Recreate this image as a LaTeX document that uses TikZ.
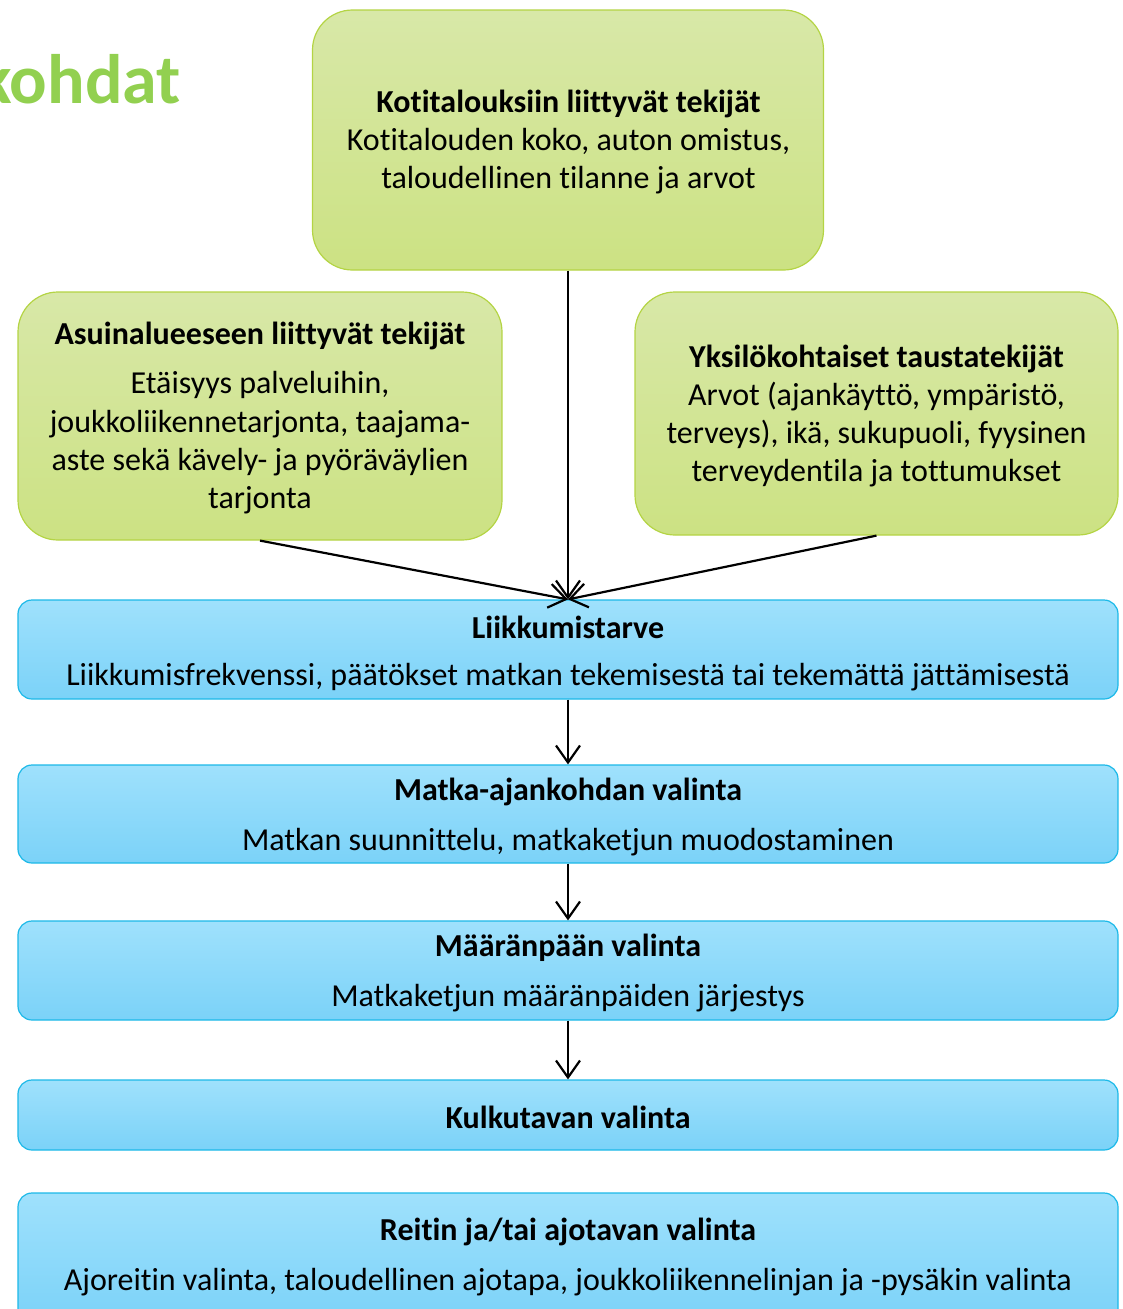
\documentclass[tikz,border=0pt]{standalone}
\usepackage{fontspec}
\setmainfont{Carlito}[Ligatures={NoCommon,NoContextual}]
\usetikzlibrary{arrows.meta}
\definecolor{gtop}{HTML}{D8E8A8}
\definecolor{gbot}{HTML}{CCE283}
\definecolor{gborder}{HTML}{B4D444}
\definecolor{btop}{HTML}{9FE1FC}
\definecolor{bbot}{HTML}{7BD2F8}
\definecolor{bborder}{HTML}{1CB9E8}
\definecolor{titlegreen}{HTML}{92D050}
\tikzset{
  gbox/.style={draw=gborder, line width=1.2pt, top color=gtop, bottom color=gbot, rounded corners=40pt, inner sep=0pt},
  bbox/.style={draw=bborder, line width=1.2pt, top color=btop, bottom color=bbot, rounded corners=14pt, inner sep=0pt, minimum width=1100pt},
  txt/.style={inner sep=0pt, align=center, font=\fontsize{32}{38.3}\selectfont},
  conn/.style={line width=2.2pt, -{Straight Barb[length=17pt,width=24pt,line width=2.2pt]}},
}
\begin{document}
\begin{tikzpicture}[x=1pt,y=-1pt]
\useasboundingbox (0,0) rectangle (1122,1309);
% title fragment
\node[anchor=base east, inner sep=0pt, text=titlegreen, font=\fontsize{70}{74}\bfseries] (title) at (181,103) {kohdat};
% green boxes
\node[gbox, minimum width=511pt, minimum height=260pt] (top) at (568,140) {};
\node[gbox, minimum width=484pt, minimum height=248pt] (left) at (260,416) {};
\node[gbox, minimum width=483pt, minimum height=243pt] (right) at (876.5,413.5) {};
% blue boxes
\node[bbox, minimum height=99pt] (b1) at (568,649.5) {};
\node[bbox, minimum height=98pt] (b2) at (568,814) {};
\node[bbox, minimum height=99pt] (b3) at (568,970.5) {};
\node[bbox, minimum height=70pt] (b4) at (568,1115) {};
\node[bbox, minimum height=130pt] (b5) at (568,1258) {};
% texts
\node[txt] (ttop) at (568.5,142) {\textbf{Kotitalouksiin liittyvät tekijät}\\Kotitalouden koko, auton omistus,\\taloudellinen tilanne ja arvot};
\node[txt] (tleft1) at (260,336) {\textbf{Asuinalueeseen liittyvät tekijät}};
\node[txt] (tleft2) at (260,443) {Etäisyys palveluihin,\\joukkoliikennetarjonta, taajama-\\aste sekä kävely- ja pyöräväylien\\tarjonta};
\node[txt] (tright) at (876.5,416) {\textbf{Yksilökohtaiset taustatekijät}\\Arvot (ajankäyttö, ympäristö,\\terveys), ikä, sukupuoli, fyysinen\\terveydentila ja tottumukset};
\node[txt] (tb1a) at (568,627) {\textbf{Liikkumistarve}};
\node[txt] (tb1b) at (568,677) {Liikkumisfrekvenssi, päätökset matkan tekemisestä tai tekemättä jättämisestä};
\node[txt] (tb2a) at (568,792) {\textbf{Matka-ajankohdan valinta}};
\node[txt] (tb2b) at (568,842) {Matkan suunnittelu, matkaketjun muodostaminen};
\node[txt] (tb3a) at (568,948) {\textbf{Määränpään valinta}};
\node[txt] (tb3b) at (568,998) {Matkaketjun määränpäiden järjestys};
\node[txt] (tb4) at (568,1117) {\textbf{Kulkutavan valinta}};
\node[txt] (tb5a) at (568,1232) {\textbf{Reitin ja/tai ajotavan valinta}};
\node[txt] (tb5b) at (568,1282) {Ajoreitin valinta, taloudellinen ajotapa, joukkoliikennelinjan ja -pysäkin valinta};
% connectors
\draw[conn] (top.south) -- (b1.north);
\draw[conn] (left.south) -- (b1.north);
\draw[conn] (right.south) -- (b1.north);
\draw[conn] (b1.south) -- (b2.north);
\draw[conn] (b2.south) -- (b3.north);
\draw[conn] (b3.south) -- (b4.north);
\end{tikzpicture}
\end{document}
